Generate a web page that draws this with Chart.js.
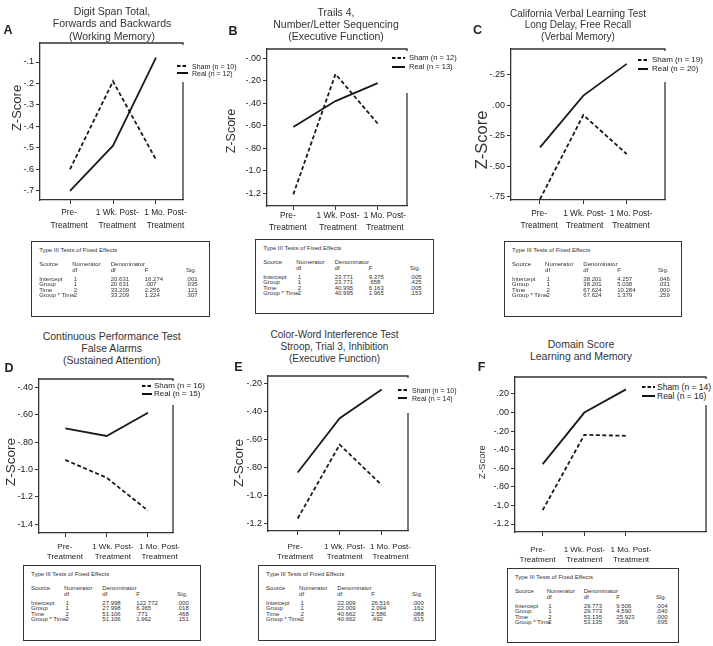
<!DOCTYPE html>
<html lang="en">
<head>
<meta charset="UTF-8">
<title>Z-Score by group over time</title>
<script src="https://cdn.jsdelivr.net/npm/chart.js"></script>
<style>
body{margin:0;background:#fff;font-family:"Liberation Sans",Arial,sans-serif;color:#222}
#fig{position:relative;width:713px;height:646px;overflow:hidden}
canvas{position:absolute}
.ttl{position:absolute;width:240px;text-align:center;white-space:nowrap}
.let{position:absolute;font-weight:bold;font-size:12.5px;line-height:13px;transform:translate(-50%,-50%)}
.zs{position:absolute;white-space:nowrap;line-height:1;transform:translate(-50%,-50%) rotate(-90deg)}
.leg{position:absolute;background:#fff;z-index:2}
.leg span{position:absolute;white-space:nowrap;transform:translateY(-50%);line-height:1}
.tbl{position:absolute;border:1.4px solid #333;box-sizing:border-box;background:#fff;font-size:6px;color:#333}
.tbl span{position:absolute;white-space:nowrap;line-height:6px;transform:translateY(-50%)}
</style>
</head>
<body>
<div id="fig"></div>
<script>
// x categories (times)
const cats = [['Pre-','Treatment'],['1 Wk. Post-','Treatment'],['1 Mo. Post-','Treatment']];
const times = [1,2,3];

// A - digit span
const shamA = [-0.60,-0.19,-0.555];
const realA = [-0.70,-0.49,-0.08];
const ticksA = [-0.1,-0.2,-0.3,-0.4,-0.5,-0.6,-0.7];
const tickLabelsA = ['-.1','-.2','-.3','-.4','-.5','-.6','-.7'];
const legendA = ['Sham (n = 10)','Real (n = 12)'];
const titleA = ['Digit Span Total,','Forwards and Backwards','(Working Memory)'];
const denDfA = ['20.631','20.631','33.209','33.209'];
const fA = ['16.274','.007','2.256','1.224'];
const sigA = ['.001','.935','.121','.307'];

// B - trails 4
const shamB = [-1.21,-0.14,-0.58];
const realB = [-0.61,-0.38,-0.22];
const ticksB = [0,-0.2,-0.4,-0.6,-0.8,-1.0,-1.2];
const tickLabelsB = ['-.00','-.20','-.40','-.60','-.80','-1.0','-1.2'];
const legendB = ['Sham (n = 12)','Real (n = 13)'];
const titleB = ['Trails 4,','Number/Letter Sequencing','(Executive Function)'];
const denDfB = ['23.771','23.771','40.995','40.995'];
const fB = ['9.375','.658','6.163','1.965'];
const sigB = ['.005','.425','.005','.153'];

// C - CVLT
const shamC = [-0.77,-0.08,-0.40];
const realC = [-0.345,0.08,0.34];
const ticksC = [0.25,0,-0.25,-0.5,-0.75];
const tickLabelsC = ['-.25','.00','-.25','-.50','-.75'];
const legendC = ['Sham (n = 19)','Real (n = 20)'];
const titleC = ['California Verbal Learning Test','Long Delay, Free Recall','(Verbal Memory)'];
const denDfC = ['38.201','38.201','67.624','67.624'];
const fC = ['4.257','5.038','10.284','1.379'];
const sigC = ['.046','.031','.000','.259'];

// D - CPT false alarms
const shamD = [-0.93,-1.06,-1.30];
const realD = [-0.70,-0.755,-0.585];
const ticksD = [-0.4,-0.6,-0.8,-1.0,-1.2,-1.4];
const tickLabelsD = ['-.40','-.60','-.80','-1.0','-1.2','-1.4'];
const legendD = ['Sham (n = 16)','Real (n = 15)'];
const titleD = ['Continuous Performance Test','False Alarms','(Sustained Attention)'];
const denDfD = ['27.998','27.998','51.106','51.106'];
const fD = ['122.772','6.365','.771','1.962'];
const sigD = ['.000','.018','.468','.151'];

// E - stroop
const shamE = [-1.165,-0.635,-0.925];
const realE = [-0.835,-0.445,-0.24];
const ticksE = [-0.2,-0.4,-0.6,-0.8,-1.0,-1.2];
const tickLabelsE = ['-.20','-.40','-.60','-.80','-1.0','-1.2'];
const legendE = ['Sham (n = 10)','Real (n = 14)'];
const titleE = ['Color-Word Interference Test','Stroop, Trial 3, Inhibition','(Executive Function)'];
const denDfE = ['22.009','22.009','40.662','40.662'];
const fE = ['26.516','2.094','2.586','.492'];
const sigE = ['.000','.162','.088','.615'];

// F - domain score
const shamF = [-1.05,-0.24,-0.25];
const realF = [-0.555,0.0,0.25];
const ticksF = [0.2,0,-0.2,-0.4,-0.6,-0.8,-1.0,-1.2];
const tickLabelsF = ['.20','.00','-.20','-.40','-.60','-.80','-1.0','-1.2'];
const legendF = ['Sham (n = 14)','Real (n = 16)'];
const titleF = ['Domain Score','Learning and Memory'];
const denDfF = ['29.773','29.773','53.135','53.135'];
const fF = ['9.506','4.590','25.923','.366'];
const sigF = ['.004','.040','.000','.695'];

const sources = ['Intercept','Group','Time','Group * Time'];
const numDf = ['1','1','2','2'];

const FONT = '"Liberation Sans", Arial, sans-serif';
const fig = document.getElementById('fig');

// layout of each panel (pixel boxes, axis ranges, label placement)
const panels = [
  {id:'A', sham:shamA, real:realA, ticks:ticksA, labels:tickLabelsA, legend:legendA, title:titleA, stats:[denDfA,fA,sigA],
   plot:[40,43,183,200], xr:[0.302,3.628], yr:[-0.743,-0.0114], xl:[213,13], lp:[0.98,2.1,3.22], xfs:8.3,
   tt:{cx:112,y:11,lh:12.4,fs:10.5}, let:[8,30], zs:[16,107.5,13],
   leg:{x:177,sw:11,tx:192,y:[66,72.7],fs:7,bottom:82}, tbl:[31,241,179,76]},
  {id:'B', sham:shamB, real:realB, ticks:ticksB, labels:tickLabelsB, legend:legendB, title:titleB, stats:[denDfB,fB,sigB],
   plot:[267,49,407,206], xr:[0.377,3.694], yr:[-1.313,0.083], xl:[216,12], lp:[0.87,2.06,3.17], xfs:8.3,
   tt:{cx:336,y:11.7,lh:12.2,fs:10.5}, let:[233,31], zs:[231,131,12.5],
   leg:{x:392,sw:13,tx:409,y:[58.3,66.7],fs:7.5,bottom:93}, tbl:[255,239,179,75]},
  {id:'C', sham:shamC, real:realC, ticks:ticksC, labels:tickLabelsC, legend:legendC, title:titleC, stats:[denDfC,fC,sigC],
   plot:[511,49,665,200], xr:[0.331,3.884], yr:[-0.777,0.462], xl:[214,12], lp:[0.98,2.03,3.1], xfs:8.3,
   tt:{cx:578,y:13.3,lh:11.5,fs:10}, let:[477.5,30], zs:[481,140,16.5],
   leg:{x:638,sw:10,tx:652,y:[60,69.3],fs:8,bottom:82}, tbl:[504,241,178,76]},
  {id:'D', sham:shamD, real:realD, ticks:ticksD, labels:tickLabelsD, legend:legendD, title:titleD, stats:[denDfD,fD,sigD],
   plot:[39,379,173,533], xr:[0.364,3.605], yr:[-1.4635,-0.339], xl:[547,9.5], lp:[0.99,2.15,3.28], xfs:8,
   tt:{cx:111.7,y:336,lh:12.3,fs:10.5}, let:[9,367.5], zs:[10.5,462,13.5],
   leg:{x:142,sw:10,tx:154,y:[386,394],fs:8,bottom:405}, tbl:[23,565,178,76]},
  {id:'E', sham:shamE, real:realE, ticks:ticksE, labels:tickLabelsE, legend:legendE, title:titleE, stats:[denDfE,fE,sigE],
   plot:[268,376,408,531], xr:[0.293,3.626], yr:[-1.255,-0.1426], xl:[547,9.5], lp:[0.94,2.12,3.21], xfs:8,
   tt:{cx:334.5,y:335,lh:11.7,fs:10}, let:[238.5,367], zs:[239,463,13.5],
   leg:{x:398,sw:9,tx:412,y:[390,398.3],fs:7,bottom:413}, tbl:[258,565,178,76]},
  {id:'F', sham:shamF, real:realF, ticks:ticksF, labels:tickLabelsF, legend:legendF, title:titleF, stats:[denDfF,fF,sigF],
   plot:[515,377,706,532], xr:[0.335,4.921], yr:[-1.286,0.383], xl:[550,9.5], lp:[0.88,2.0,3.12], xfs:8,
   tt:{cx:581,y:345,lh:11.7,fs:10.5}, let:[481.5,366.5], zs:[481.5,461.5,9.5],
   leg:{x:642,sw:13,tx:657,y:[386.7,396],fs:8.5,bottom:405}, tbl:[507,568,172,75]}
];

// top and right border of the plot box
const frame = {
  id: 'frame',
  afterDraw(chart) {
    const {ctx, chartArea: a} = chart;
    ctx.save();
    ctx.strokeStyle = '#333';
    ctx.lineWidth = 1.3;
    ctx.beginPath();
    ctx.moveTo(a.left, a.top);
    ctx.lineTo(a.right, a.top);
    ctx.lineTo(a.right, a.bottom);
    ctx.stroke();
    ctx.restore();
  }
};

const YW = 36, XH = 40, PT = 12, PR = 16, TL = 4;

function addDiv(cls, html, css) {
  const d = document.createElement('div');
  d.className = cls;
  d.innerHTML = html;
  Object.assign(d.style, css);
  fig.appendChild(d);
  return d;
}

function makeChart(p) {
  const cv = document.createElement('canvas');
  const left = p.plot[0] - YW, top = p.plot[1] - PT;
  const w = p.plot[2] + PR - left, h = p.plot[3] + XH - top;
  cv.width = w; cv.height = h;
  cv.style.left = left + 'px';
  cv.style.top = top + 'px';
  fig.appendChild(cv);

  const xpad = p.xl[0] - p.plot[3] - TL - p.xl[1] / 2;

  new Chart(cv, {
    type: 'line',
    data: {
      datasets: [
        {label: p.legend[0], data: times.map((t, i) => ({x: t, y: p.sham[i]})),
         borderColor: '#1a1a1a', borderWidth: 1.8, borderDash: [4, 2.5], pointRadius: 0, tension: 0},
        {label: p.legend[1], data: times.map((t, i) => ({x: t, y: p.real[i]})),
         borderColor: '#1a1a1a', borderWidth: 1.8, pointRadius: 0, tension: 0}
      ]
    },
    options: {
      responsive: false,
      animation: false,
      devicePixelRatio: 1,
      layout: {padding: {top: PT, right: PR, left: 0, bottom: 0}},
      plugins: {legend: {display: false}, tooltip: {enabled: false}},
      scales: {
        // tick marks at the three time points
        x: {
          type: 'linear', min: p.xr[0], max: p.xr[1], weight: 0,
          afterBuildTicks: s => { s.ticks = times.map(v => ({value: v})); },
          afterFit: s => { s.height = TL; s.paddingLeft = 0; s.paddingRight = 0; },
          grid: {drawOnChartArea: false, tickLength: TL, color: '#333', lineWidth: 1},
          border: {color: '#333', width: 1.3},
          ticks: {display: false}
        },
        // category labels, spaced a little wider than the ticks as in the original
        x2: {
          type: 'linear', position: 'bottom', min: p.xr[0], max: p.xr[1], weight: 1,
          afterBuildTicks: s => { s.ticks = p.lp.map(v => ({value: v})); },
          afterFit: s => { s.height = XH - TL; s.paddingLeft = 0; s.paddingRight = 0; },
          grid: {display: false, drawTicks: false},
          border: {display: false},
          ticks: {
            callback: (v, i) => cats[i],
            color: '#222', maxRotation: 0, autoSkip: false, padding: xpad,
            font: {family: FONT, size: p.xfs, lineHeight: p.xl[1] + 'px'}
          }
        },
        y: {
          type: 'linear', min: p.yr[0], max: p.yr[1],
          afterBuildTicks: s => { s.ticks = p.ticks.map(v => ({value: v})); },
          afterFit: s => { s.width = YW; s.paddingTop = 0; s.paddingBottom = 0; },
          grid: {drawOnChartArea: false, tickLength: 4, color: '#333', lineWidth: 1},
          border: {color: '#333', width: 1.3},
          ticks: {
            callback: (v, i) => p.labels[i],
            color: '#222', autoSkip: false, padding: 2,
            font: {family: FONT, size: 9}
          }
        }
      }
    },
    plugins: [frame]
  });

  // title
  addDiv('ttl', p.title.join('<br>'), {
    left: (p.tt.cx - 120) + 'px', top: (p.tt.y - p.tt.lh / 2) + 'px',
    fontSize: p.tt.fs + 'px', lineHeight: p.tt.lh + 'px', color: '#333'
  });
  // panel letter
  addDiv('let', p.id, {left: p.let[0] + 'px', top: p.let[1] + 'px'});
  // y axis title
  addDiv('zs', 'Z-Score', {left: p.zs[0] + 'px', top: p.zs[1] + 'px', fontSize: p.zs[2] + 'px', color: '#333'});

  // legend
  const g = p.leg;
  const lx = g.x - 2, ly = p.plot[1] + 2;
  let html = '';
  p.legend.forEach((lab, i) => {
    const dash = i === 0 ? 'stroke-dasharray="3.5 2"' : '';
    html += `<svg width="${g.sw}" height="4" style="position:absolute;left:${g.x - lx}px;top:${g.y[i] - 2 - ly}px">` +
            `<line x1="0" y1="2" x2="${g.sw}" y2="2" stroke="#111" stroke-width="2" ${dash}/></svg>`;
    html += `<span style="left:${g.tx - lx}px;top:${g.y[i] - ly}px;font-size:${g.fs}px">${lab}</span>`;
  });
  addDiv('leg', html, {
    left: lx + 'px', top: ly + 'px',
    width: (g.tx + g.fs * 7 - lx) + 'px', height: (g.bottom - ly) + 'px'
  });

  // fixed effects table
  const [tx, ty, tw, th] = p.tbl;
  const cx = [0.04, 0.225, 0.44, 0.63, 0.86].map(f => f * tw);
  const cell = (x, y, s) => `<span style="left:${x}px;top:${y}px">${s}</span>`;
  let t = cell(cx[0], 8, 'Type III Tests of Fixed Effects');
  t += cell(cx[0], 22.3, 'Source') + cell(cx[1], 22.3, 'Numerator') + cell(cx[2], 22.3, 'Denominator');
  t += cell(cx[1], 28, 'df') + cell(cx[2], 28, 'df') + cell(cx[3], 28, 'F') + cell(cx[4], 28, 'Sig.');
  sources.forEach((s, i) => {
    const y = 36.8 + i * 5.4;
    t += cell(cx[0], y, s) + cell(cx[1] + 1.5, y, numDf[i]) +
         cell(cx[2], y, p.stats[0][i]) + cell(cx[3], y, p.stats[1][i]) + cell(cx[4], y, p.stats[2][i]);
  });
  addDiv('tbl', t, {left: tx + 'px', top: ty + 'px', width: tw + 'px', height: th + 'px'});
}

panels.forEach(makeChart);
</script>
</body>
</html>
